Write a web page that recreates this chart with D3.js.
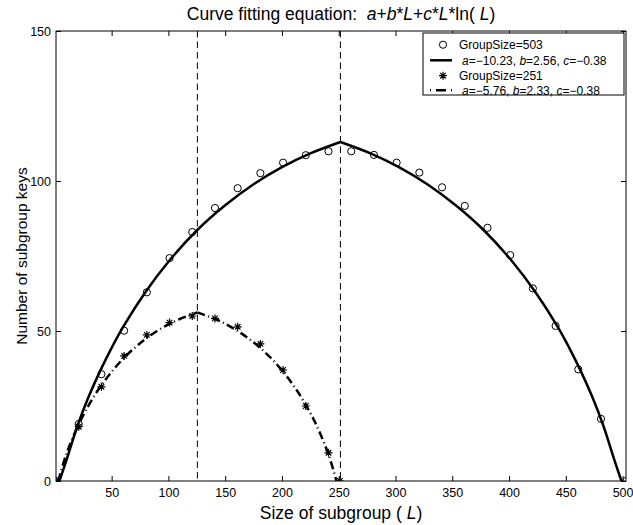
<!DOCTYPE html>
<html lang="en">
<head>
    <meta charset="UTF-8">
    <title>Curve fitting equation</title>
    <script src="https://d3js.org/d3.v7.min.js"></script>
    <style>
        body { margin: 0; background: #fff; }
        svg text { font-family: "Liberation Sans", Arial, Helvetica, sans-serif; fill: #000; white-space: pre; }
    </style>
</head>
<body>
<script>
    // measured points, group of 503
    var groupL503 = [1, 21, 41, 61, 81, 101, 121, 141, 161, 181, 201, 221, 241, 261, 281, 301, 321, 341, 361, 381, 401, 421, 441, 461, 481, 503];
    var groupV503 = [0, 19.0, 35.6, 50.1, 62.9, 74.3, 83.0, 91.0, 97.6, 102.6, 106.1, 108.6, 109.9, 109.9, 108.7, 106.1, 102.8, 97.9, 91.7, 84.4, 75.3, 64.2, 51.7, 37.2, 20.7, 0];

    // measured points, group of 251
    var groupL251 = [1, 21, 41, 61, 81, 101, 121, 141, 161, 181, 201, 221, 241, 251];
    var groupV251 = [0, 18.1, 31.4, 41.7, 48.7, 52.8, 55.0, 54.2, 51.4, 45.7, 37.0, 25.0, 9.4, 0];

    // fitted curve 503 (left half, right half)
    var fitL503a = [4, 10, 20, 30, 40, 50, 60, 80, 100, 125, 150, 175, 200, 225, 251.5];
    var fitV503a = [0, 6.7, 18.5, 28.3, 36.8, 44.4, 51.3, 63.1, 73.1, 83.5, 91.9, 98.9, 104.6, 109.2, 113.0];
    var fitL503b = [251.5, 278, 303, 328, 353, 378, 403, 423, 443, 453, 463, 473, 483, 493, 499];
    var fitV503b = [113.0, 109.2, 104.6, 98.9, 91.9, 83.5, 73.1, 63.1, 51.3, 44.4, 36.8, 28.3, 18.5, 6.7, 0];

    // fitted curve 251
    var fitL251a = [3, 10, 20, 30, 40, 50, 60, 70, 80, 90, 100, 110, 125.5];
    var fitV251a = [0, 8.8, 18.1, 25.4, 31.4, 36.4, 40.7, 44.3, 47.4, 50.0, 52.2, 54.0, 56.2];
    var fitL251b = [125.5, 141, 151, 161, 171, 181, 191, 201, 211, 221, 231, 241, 248];
    var fitV251b = [56.2, 54.0, 52.2, 50.0, 47.4, 44.3, 40.7, 36.4, 31.4, 25.4, 18.1, 8.8, 0];

    var halfLines = [125.5, 251.5];
    var xTicks = [50, 100, 150, 200, 250, 300, 350, 400, 450, 500];
    var yTicks = [0, 50, 100, 150];

    var width = 633, height = 525;
    var plotL = 56, plotR = 626, plotT = 31, plotB = 481;

    var svg = d3.select("body").append("svg")
        .attr("width", width)
        .attr("height", height);

    var x = d3.scaleLinear().domain([1, 503]).range([plotL, plotR]);
    var y = d3.scaleLinear().domain([0, 150]).range([plotB, plotT]);

    function zip(ls, vs) { return ls.map(function (l, i) { return [l, vs[i]]; }); }

    svg.append("clipPath").attr("id", "plotclip")
        .append("rect")
        .attr("x", plotL).attr("y", plotT)
        .attr("width", plotR - plotL).attr("height", plotB - plotT);

    // axes with inward ticks
    svg.append("g")
        .attr("transform", "translate(0," + plotB + ")")
        .call(d3.axisBottom(x).tickValues(xTicks).tickSize(-5).tickPadding(7))
        .call(function (g) { g.select(".domain").remove(); });
    svg.append("g")
        .attr("transform", "translate(0," + plotT + ")")
        .call(d3.axisTop(x).tickValues(xTicks).tickSize(-5).tickFormat(""))
        .call(function (g) { g.select(".domain").remove(); });
    svg.append("g")
        .attr("transform", "translate(" + plotL + ",0)")
        .call(d3.axisLeft(y).tickValues(yTicks).tickSize(-5).tickPadding(5))
        .call(function (g) { g.select(".domain").remove(); });
    svg.append("g")
        .attr("transform", "translate(" + plotR + ",0)")
        .call(d3.axisRight(y).tickValues(yTicks).tickSize(-5).tickFormat(""))
        .call(function (g) { g.select(".domain").remove(); });

    svg.selectAll(".tick line").attr("stroke", "#000");
    svg.selectAll(".tick text")
        .style("font-size", "12.5px")
        .style("font-family", "'Liberation Sans', Arial, sans-serif");

    svg.append("rect")
        .attr("x", plotL).attr("y", plotT)
        .attr("width", plotR - plotL).attr("height", plotB - plotT)
        .attr("fill", "none").attr("stroke", "#000").attr("stroke-width", 1);

    var plot = svg.append("g").attr("clip-path", "url(#plotclip)");

    var line = d3.line()
        .x(function (d) { return x(d[0]); })
        .y(function (d) { return y(d[1]); })
        .curve(d3.curveCatmullRom.alpha(0.5));

    // group 503
    plot.selectAll("circle.g503")
        .data(zip(groupL503, groupV503))
        .enter().append("circle")
        .attr("class", "g503")
        .attr("cx", function (d) { return x(d[0]); })
        .attr("cy", function (d) { return y(d[1]); })
        .attr("r", 3.6)
        .attr("fill", "none")
        .attr("stroke", "#000")
        .attr("stroke-width", 1);

    [zip(fitL503a, fitV503a), zip(fitL503b, fitV503b)].forEach(function (seg) {
        plot.append("path")
            .datum(seg)
            .attr("d", line)
            .attr("fill", "none")
            .attr("stroke", "#000")
            .attr("stroke-width", 2.5);
    });

    // group 251
    var star = "M-4,0H4M0,-4V4M-2.8,-2.8L2.8,2.8M-2.8,2.8L2.8,-2.8";
    plot.selectAll("path.g251")
        .data(zip(groupL251, groupV251))
        .enter().append("path")
        .attr("class", "g251")
        .attr("transform", function (d) { return "translate(" + x(d[0]) + "," + y(d[1]) + ")"; })
        .attr("d", star)
        .attr("fill", "none")
        .attr("stroke", "#000")
        .attr("stroke-width", 1.2);

    [zip(fitL251a, fitV251a), zip(fitL251b, fitV251b)].forEach(function (seg) {
        plot.append("path")
            .datum(seg)
            .attr("d", line)
            .attr("fill", "none")
            .attr("stroke", "#000")
            .attr("stroke-width", 2.5)
            .attr("stroke-dasharray", "8,3.5,1,3.5");
    });

    // half-size markers
    plot.selectAll("line.half")
        .data(halfLines)
        .enter().append("line")
        .attr("class", "half")
        .attr("x1", function (d) { return x(d); })
        .attr("x2", function (d) { return x(d); })
        .attr("y1", plotT)
        .attr("y2", plotB)
        .attr("stroke", "#000")
        .attr("stroke-width", 1)
        .attr("stroke-dasharray", "6.5,4");

    // legend
    var lg = svg.append("g");
    lg.append("rect")
        .attr("x", 423).attr("y", 33)
        .attr("width", 201).attr("height", 62)
        .attr("fill", "#fff").attr("stroke", "#000").attr("stroke-width", 1);

    lg.append("circle").attr("cx", 443).attr("cy", 44.7).attr("r", 3.6)
        .attr("fill", "none").attr("stroke", "#000");
    lg.append("line").attr("x1", 430).attr("x2", 452).attr("y1", 60.3).attr("y2", 60.3)
        .attr("stroke", "#000").attr("stroke-width", 2.5);
    lg.append("path").attr("d", star).attr("transform", "translate(443,75.7)")
        .attr("fill", "none").attr("stroke", "#000").attr("stroke-width", 1.2);
    lg.append("line").attr("x1", 430).attr("x2", 452).attr("y1", 90.3).attr("y2", 90.3)
        .attr("stroke", "#000").attr("stroke-width", 2.5)
        .attr("stroke-dasharray", "1,5,10,5");

    function legendText(yy, parts, x0) {
        var t = lg.append("text").attr("x", x0).attr("y", yy).attr("dy", "0.35em")
            .style("font-size", "12px");
        parts.forEach(function (p) {
            t.append("tspan").style("font-style", p[1] ? "italic" : "normal").text(p[0]);
        });
    }
    legendText(44.7, [["GroupSize=503", false]], 459);
    legendText(60.3, [["a", true], ["=\u221210.23, ", false], ["b", true], ["=2.56, ", false], ["c", true], ["=\u22120.38", false]], 462);
    legendText(75.7, [["GroupSize=251", false]], 459);
    legendText(90.3, [["a", true], ["=\u22125.76, ", false], ["b", true], ["=2.33, ", false], ["c", true], ["=\u22120.38", false]], 462);

    // title and axis labels
    var title = svg.append("text")
        .attr("x", (plotL + plotR) / 2)
        .attr("y", 20)
        .attr("text-anchor", "middle")
        .style("font-size", "17.5px");
    [["Curve fitting equation:  ", false], ["a", true], ["+", false], ["b", true], ["*", false], ["L", true],
     ["+", false], ["c", true], ["*", false], ["L", true], ["*ln( ", false], ["L", true], [")", false]]
        .forEach(function (p) {
            title.append("tspan").style("font-style", p[1] ? "italic" : "normal").text(p[0]);
        });

    var xl = svg.append("text")
        .attr("x", (plotL + plotR) / 2)
        .attr("y", 519)
        .attr("text-anchor", "middle")
        .style("font-size", "17.5px");
    xl.append("tspan").text("Size of subgroup ( ");
    xl.append("tspan").style("font-style", "italic").text("L");
    xl.append("tspan").text(")");

    svg.append("text")
        .attr("transform", "translate(27," + ((plotT + plotB) / 2) + ") rotate(-90)")
        .attr("text-anchor", "middle")
        .style("font-size", "15.5px")
        .text("Number of subgroup keys");
</script>
</body>
</html>
